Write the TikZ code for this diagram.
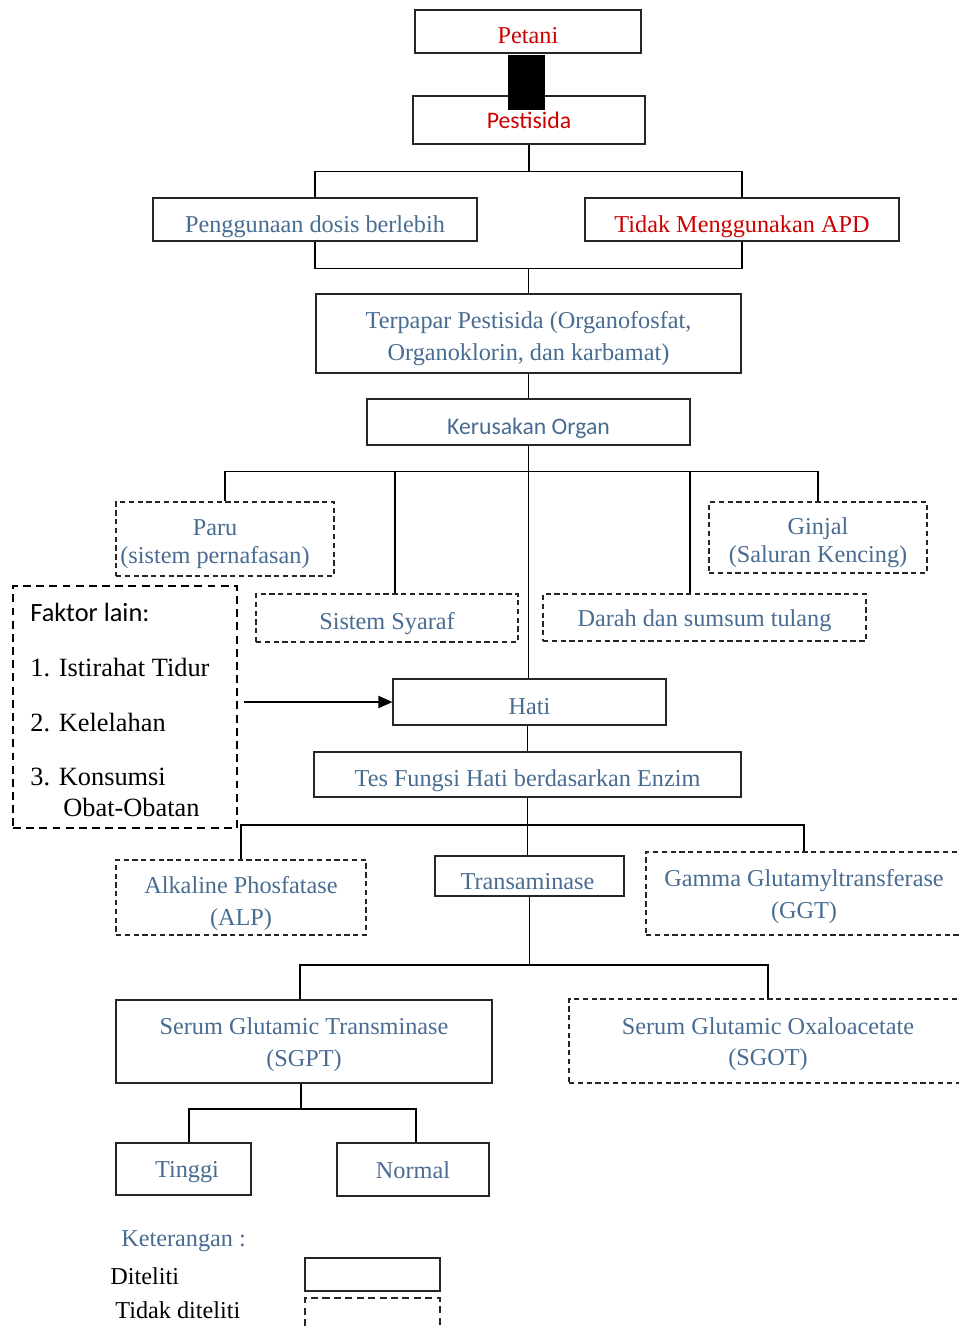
\documentclass[tikz,border=0pt]{standalone}
\usepackage{fontspec}
\setmainfont{Liberation Serif}
\newfontfamily\calibri{Carlito}
\usepackage{tikz}
\usetikzlibrary{arrows.meta}
\definecolor{teksbiru}{RGB}{72,108,145}
\definecolor{teksmerah}{RGB}{204,0,0}

\begin{document}
\begin{tikzpicture}[x=0.02cm,y=-0.02cm,
	box/.style={draw=black!85,line width=0.6pt,inner sep=0pt},
	dbox/.style={box,dash pattern=on 3pt off 2pt},
	wh/.style 2 args={minimum width=#1*0.02cm,minimum height=#2*0.02cm},
	tx/.style={align=center,text=teksbiru,inner sep=0pt,yshift=-0.1cm,font=\fontsize{13.8}{18}\selectfont},
	sans/.style={font=\calibri\fontsize{13.5}{16}\selectfont},
	ket/.style={anchor=west,inner sep=0pt,font=\fontsize{13.8}{16}\selectfont},
	fk/.style={anchor=west,inner sep=0pt,font=\fontsize{15}{18}\selectfont},
	garis/.style={line width=1.1pt}]
\useasboundingbox (0,0) rectangle (959,1328);

\node [box,wh={226}{43},label={[tx,text=teksmerah,yshift=0.02cm]center:Petani}] (pet) at (528,31.5) {};
\node [box,wh={232}{48},label={[tx,text=teksmerah,sans,yshift=0.1cm]center:Pestisida}] (pes) at (529,120) {};
\node [fill=black,inner sep=0pt,wh={37}{55}] (blk) at (526.5,82.5) {};
\node [box,wh={324}{43},label={[tx,yshift=-0.04cm]center:Penggunaan dosis berlebih}] (dosis) at (315,219.5) {};
\node [box,wh={314}{43},label={[tx,text=teksmerah,yshift=-0.04cm]center:Tidak Menggunakan APD}] (apd) at (742,219.5) {};
\node [box,wh={425}{79},label={[tx]center:Terpapar Pestisida (Organofosfat,\\ Organoklorin, dan karbamat)}] (ter) at (528.5,333.5) {};
\node [box,wh={323}{46},label={[tx,sans,yshift=-0.02cm]center:Kerusakan Organ}] (ker) at (528.5,422) {};

\node [dbox,wh={218}{74},label={[tx,xshift=-0.2cm,font=\fontsize{13.8}{16}\selectfont]center:Paru\\(sistem pernafasan)}] (paru) at (225,539) {};
\node [dbox,wh={218}{71},label={[tx,font=\fontsize{13.8}{16}\selectfont]center:Ginjal\\(Saluran Kencing)}] (gin) at (818,537.5) {};
\node [dbox,wh={262}{48},label={[tx,yshift=-0.02cm]center:Sistem Syaraf}] (syaraf) at (387,618) {};
\node [dbox,wh={323}{47},label={[tx,yshift=0.04cm]center:Darah dan sumsum tulang}] (darah) at (704.5,617.5) {};

% faktor lain
\node [draw,line width=0.9pt,dash pattern=on 4.5pt off 3pt,wh={224}{242}] (fak) at (125,707) {};
\node [fk,font=\calibri\fontsize{15}{18}\selectfont] (fk0) at (30,612) {Faktor lain:};
\node [fk] (fk1) at (30,668) {1. Istirahat Tidur};
\node [fk] (fk2) at (30,723) {2. Kelelahan};
\node [fk] (fk3) at (30,777) {3. Konsumsi};
\node [fk] (fk4) at (63,807) {Obat-Obatan};

\node [box,wh={273}{46},label={[tx]center:Hati}] (hati) at (529.5,702) {};
\node [box,wh={427}{45},label={[tx,yshift=-0.02cm]center:Tes Fungsi Hati berdasarkan Enzim}] (tes) at (527.5,774.5) {};
\node [dbox,wh={250}{75},label={[tx,yshift=-0.02cm]center:Alkaline Phosfatase\\(ALP)}] (alp) at (241,897.5) {};
\node [box,wh={189}{40},label={[tx,xshift=-0.04cm,yshift=-0.02cm]center:Transaminase}] (trans) at (529.5,876) {};
\node [dbox,wh={316}{83},label={[tx,yshift=0.04cm]center:Gamma Glutamyltransferase\\(GGT)}] (ggt) at (804,893.5) {};
\node [box,wh={376}{83},label={[tx,yshift=0.04cm]center:Serum Glutamic Transminase\\(SGPT)}] (sgpt) at (304,1041.5) {};
\node [dbox,wh={398}{84},label={[tx,yshift=0.04cm]center:Serum Glutamic Oxaloacetate\\(SGOT)}] (sgot) at (768,1041) {};
\node [box,wh={135}{52},label={[tx,xshift=0.07cm,yshift=0.04cm]center:Tinggi}] (ting) at (183.5,1169) {};
\node [box,wh={152}{53},label={[tx,yshift=0.08cm]center:Normal}] (norm) at (413,1169.5) {};

% keterangan
\node [ket,text=teksbiru] (ket0) at (121,1241) {Keterangan :};
\node [ket] (ket1) at (110,1276) {Diteliti};
\node [ket] (ket2) at (115,1310) {Tidak diteliti};
\node [box,wh={135}{33}] (leg1) at (372.5,1274.5) {};
\node [box,wh={135}{40},dash pattern=on 4pt off 2.5pt] (leg2) at (372.5,1318) {};

% garis penghubung
\draw [garis] (pes.south) -- ++(0,27) coordinate (b0);
\draw [garis] (dosis.north) |- (b0) -| (apd.north);
\draw [garis] (dosis.south) -- ++(0,27) coordinate (b1) -| (apd.south);
\draw [garis] (b1 -| ter.north) -- (ter.north);
\draw [garis] (ter.south) -- (ker.north);
\draw [garis] (ker.south) -- ++(0,26) coordinate (b2);
\draw [garis] (paru.north) |- (b2) -| (gin.north);
\draw [garis] ([xshift=0.16cm]syaraf.north) |- (b2);
\draw [garis] ([xshift=-0.29cm]darah.north) |- (b2);
\draw [garis] (b2) -- (b2 |- hati.north);
\draw [garis,-{Triangle[length=0.28cm,width=0.24cm]}] ([xshift=0.12cm]fak.east |- hati.west) -- (hati.west);
\draw [garis] (tes.north |- hati.south) -- (tes.north);
\draw [garis] (tes.south) -- ++(0,27) coordinate (b3);
\draw [garis] (alp.north) |- (b3) -| (ggt.north);
\draw [garis] (b3) -- (b3 |- trans.north);
\draw [garis] (trans.south) -- ++(0,68) coordinate (b4);
\draw [garis] ([xshift=-0.08cm]sgpt.north) |- (b4) -| (sgot.north);
\draw [garis] ([xshift=-0.06cm]sgpt.south) -- ++(0,25) coordinate (b5);
\draw [garis] ([xshift=0.11cm]ting.north) |- (b5) -| ([xshift=0.06cm]norm.north);
\end{tikzpicture}
\end{document}
